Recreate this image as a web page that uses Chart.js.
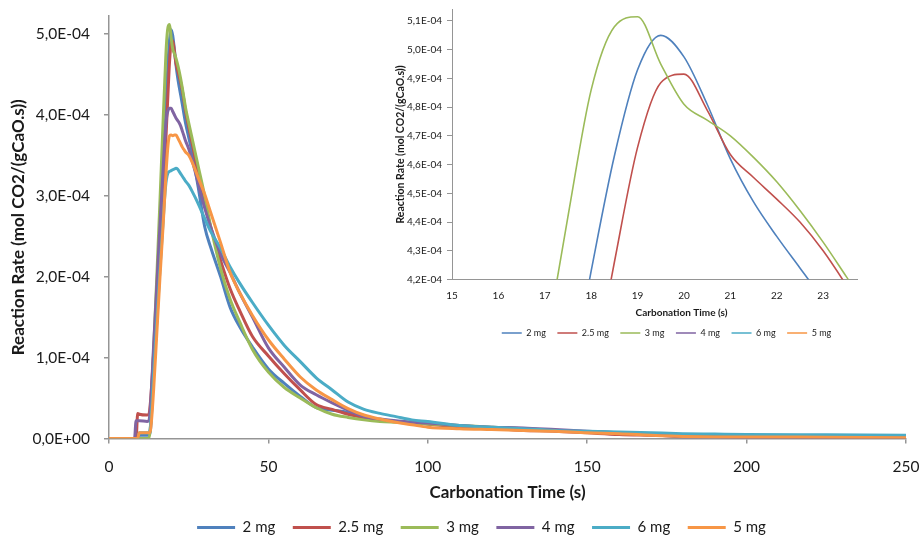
<!DOCTYPE html>
<html>
<head>
<meta charset="utf-8">
<script src="https://cdn.jsdelivr.net/npm/chart.js@4.4.1/dist/chart.umd.min.js"></script>
<style>
  body { margin: 0; background: #fff; }
  #wrap { position: relative; width: 919px; height: 540px; }
  #main { position: absolute; left: 0; top: 0; }
  #inset { position: absolute; left: 380px; top: 0; }
</style>
</head>
<body>
<div id="wrap">
  <canvas id="main" width="919" height="540"></canvas>
  <canvas id="inset" width="505" height="352"></canvas>
</div>
<script>
// carbonation time (s)
const time = [0, 8, 8.5, 9, 9.5, 12, 12.5, 13, 14, 15, 16, 17, 17.5, 18, 18.5, 19, 19.5, 20, 20.5, 21, 21.5, 22, 22.5, 23, 23.5, 24,
  25, 26, 28, 30, 32, 35, 38, 41, 45, 50, 55, 60, 65, 70, 75, 80, 85, 90, 95, 100,
  110, 120, 130, 140, 150, 160, 170, 180, 190, 200, 225, 250];

// reaction rate, in units of 1E-04 mol CO2/(gCaO.s)
const rate2mg = [0, 0, 0, 0, 0.04, 0.04, 0.04, 0.1, 0.85, 1.65, 2.5, 3.35, 3.8, 4.23, 4.63, 4.93, 5.05, 4.975, 4.81, 4.62, 4.47, 4.35, 4.24, 4.13, 4.01, 3.9,
  3.72, 3.55, 3.1, 2.62, 2.35, 2.0, 1.62, 1.38, 1.13, 0.86, 0.68, 0.52, 0.38, 0.35, 0.32, 0.25, 0.23, 0.21, 0.2, 0.18,
  0.15, 0.13, 0.11, 0.1, 0.085, 0.07, 0.06, 0.04, 0.035, 0.03, 0.025, 0.02];
const rate25mg = [0, 0, 0, 0.31, 0.3, 0.29, 0.3, 0.45, 1.05, 1.7, 2.33, 2.97, 3.4, 3.83, 4.26, 4.66, 4.885, 4.915, 4.79, 4.635, 4.555, 4.48, 4.4, 4.3, 4.18, 4.05,
  3.85, 3.66, 3.28, 2.9, 2.6, 2.2, 1.85, 1.58, 1.26, 1.02, 0.8, 0.6, 0.42, 0.36, 0.3, 0.26, 0.23, 0.21, 0.2, 0.18,
  0.14, 0.12, 0.1, 0.09, 0.07, 0.05, 0.04, 0.03, 0.025, 0.02, 0.02, 0.015];
const rate3mg = [0, 0, 0, 0, 0, 0, 0, 0.15, 1.1, 2.0, 2.95, 3.95, 4.42, 4.86, 5.08, 5.115, 4.95, 4.81, 4.755, 4.7, 4.625, 4.54, 4.44, 4.33, 4.21, 4.09,
  3.9, 3.72, 3.36, 3.0, 2.6, 2.1, 1.72, 1.44, 1.1, 0.82, 0.63, 0.5, 0.38, 0.3, 0.26, 0.23, 0.21, 0.2, 0.19, 0.18,
  0.16, 0.14, 0.12, 0.1, 0.08, 0.07, 0.06, 0.04, 0.035, 0.03, 0.025, 0.02];
const rate4mg = [0, 0, 0.22, 0.22, 0.22, 0.21, 0.22, 0.4, 1.15, 1.9, 2.65, 3.35, 3.7, 3.95, 4.05, 4.08, 4.08, 4.04, 4.0, 3.96, 3.93, 3.9, 3.86, 3.8, 3.74, 3.68,
  3.58, 3.45, 3.15, 2.85, 2.6, 2.28, 2.05, 1.8, 1.5, 1.12, 0.88, 0.66, 0.54, 0.44, 0.35, 0.27, 0.24, 0.22, 0.2, 0.19,
  0.16, 0.14, 0.13, 0.11, 0.09, 0.07, 0.05, 0.02, 0.02, 0.02, 0.015, 0.015];
const rate6mg = [0, 0, 0, 0, 0.07, 0.07, 0.07, 0.15, 0.8, 1.45, 2.1, 2.7, 3.0, 3.2, 3.28, 3.3, 3.31, 3.32, 3.33, 3.34, 3.33, 3.3, 3.27, 3.24, 3.21, 3.18,
  3.13, 3.06, 2.9, 2.72, 2.55, 2.35, 2.12, 1.92, 1.68, 1.4, 1.15, 0.95, 0.75, 0.6, 0.45, 0.36, 0.31, 0.27, 0.23, 0.21,
  0.16, 0.14, 0.12, 0.1, 0.09, 0.08, 0.07, 0.06, 0.055, 0.05, 0.045, 0.04];
const rate5mg = [0, 0, 0, 0, 0.07, 0.07, 0.07, 0.1, 0.6, 1.3, 2.0, 2.65, 3.0, 3.35, 3.62, 3.74, 3.75, 3.74, 3.75, 3.75, 3.72, 3.68, 3.64, 3.6, 3.57, 3.54,
  3.5, 3.42, 3.22, 3.02, 2.78, 2.42, 2.05, 1.8, 1.52, 1.22, 0.98, 0.76, 0.6, 0.48, 0.37, 0.29, 0.24, 0.2, 0.17, 0.14,
  0.12, 0.11, 0.1, 0.09, 0.07, 0.06, 0.04, 0.025, 0.02, 0.02, 0.015, 0.01];

const seriesNames = ['2 mg', '2.5 mg', '3 mg', '4 mg', '6 mg', '5 mg'];
const seriesRates = [rate2mg, rate25mg, rate3mg, rate4mg, rate6mg, rate5mg];
const seriesColors = ['#4F81BD', '#C0504D', '#9BBB59', '#8064A2', '#4BACC6', '#F79646'];

// tick labels (rate ticks in 1E-04)
const mainXTicks = [0, 50, 100, 150, 200, 250];
const mainYTicks = [0, 1, 2, 3, 4, 5];
const insetXTicks = [15, 16, 17, 18, 19, 20, 21, 22, 23];
const insetYTicks = [4.2, 4.3, 4.4, 4.5, 4.6, 4.7, 4.8, 4.9, 5.0, 5.1];

const UNIT = 1e-4;
const FONT = 'Lato, "Open Sans", sans-serif';
const AXIS = '#959595';
const TEXT = '#1a1a1a';

function fmtE(v) {
  if (Math.abs(v) < 1e-12) return '0,0E+00';
  const [m, e] = v.toExponential(1).split('e');
  const ex = parseInt(e, 10);
  return m.replace('.', ',') + 'E' + (ex < 0 ? '-' : '+') + String(Math.abs(ex)).padStart(2, '0');
}

function makeDatasets(lineWidth) {
  return seriesNames.map((name, i) => ({
    label: name,
    data: time.map((t, k) => ({ x: t, y: seriesRates[i][k] * UNIT })),
    borderColor: seriesColors[i],
    backgroundColor: seriesColors[i],
    borderWidth: lineWidth,
    pointRadius: 0,
    cubicInterpolationMode: 'monotone',
    order: seriesNames.length - i
  }));
}

// fixed axis size, no extra room for end labels
function fixSize(w, h) {
  return s => {
    if (w != null) s.width = w;
    if (h != null) s.height = h;
    s.paddingTop = s.paddingBottom = s.paddingLeft = s.paddingRight = 0;
  };
}

// moves legend / title blocks after layout
const nudge = {
  id: 'nudge',
  afterLayout(chart, args, opts) {
    const move = (box, d) => {
      if (!box || !d) return;
      box.left += d.dx || 0; box.right += d.dx || 0;
      box.top += d.dy || 0; box.bottom += d.dy || 0;
    };
    move(chart.legend, opts.legend);
    move(chart.titleBlock, opts.title);
  }
};

Chart.defaults.font.family = FONT;
Chart.defaults.color = TEXT;

new Chart(document.getElementById('main'), {
  type: 'line',
  data: { datasets: makeDatasets(3) },
  plugins: [nudge],
  options: {
    responsive: false,
    animation: false,
    layout: { padding: { left: 8, right: 13, top: 16, bottom: -7 } },
    scales: {
      x: {
        type: 'linear', min: 0, max: 250,
        afterBuildTicks: s => { s.ticks = mainXTicks.map(v => ({ value: v })); },
        afterFit: fixSize(null, 66),
        grid: { drawOnChartArea: false, drawTicks: true, tickLength: 5, color: AXIS, lineWidth: 1.5 },
        border: { color: AXIS, width: 1.5 },
        ticks: { font: { size: 15.5 }, padding: 14, color: TEXT },
        title: { display: true, text: 'Carbonation Time (s)', font: { size: 17, weight: 'bold' }, padding: { top: 0, bottom: 2 }, color: TEXT }
      },
      y: {
        min: 0, max: 5.22 * UNIT,
        afterBuildTicks: s => { s.ticks = mainYTicks.map(v => ({ value: v * UNIT })); },
        afterFit: fixSize(101, null),
        grid: { drawOnChartArea: false, drawTicks: true, tickLength: 5, color: AXIS, lineWidth: 1.5 },
        border: { color: AXIS, width: 1.5 },
        ticks: { font: { size: 15.5 }, padding: 14, color: TEXT, callback: v => fmtE(v) },
        title: { display: true, text: 'Reaction Rate (mol CO2/(gCaO.s))', font: { size: 17, weight: 'bold' }, padding: 0, color: TEXT }
      }
    },
    plugins: {
      legend: {
        position: 'bottom',
        labels: { boxWidth: 38, boxHeight: 0, padding: 17.5, font: { size: 15 }, color: TEXT,
          sort: (a, b) => a.datasetIndex - b.datasetIndex }
      },
      tooltip: { enabled: false },
      nudge: { legend: { dx: 24.5, dy: -2 } }
    }
  }
});

new Chart(document.getElementById('inset'), {
  type: 'line',
  data: { datasets: makeDatasets(1.6) },
  plugins: [nudge],
  options: {
    responsive: false,
    animation: false,
    layout: { padding: { left: 14, right: 28, top: 9.5, bottom: 0 } },
    scales: {
      x: {
        type: 'linear', min: 15, max: 23.73,
        afterBuildTicks: s => { s.ticks = insetXTicks.map(v => ({ value: v })); },
        afterFit: fixSize(null, 24),
        grid: { display: false, drawTicks: false },
        border: { color: AXIS, width: 1 },
        ticks: { font: { size: 10 }, padding: 10, color: TEXT }
      },
      y: {
        min: 4.2 * UNIT, max: 5.14 * UNIT,
        afterBuildTicks: s => { s.ticks = insetYTicks.map(v => ({ value: v * UNIT })); },
        afterFit: fixSize(58, null),
        grid: { drawOnChartArea: false, drawTicks: true, tickLength: 5, color: AXIS, lineWidth: 1 },
        border: { color: AXIS, width: 1 },
        ticks: { font: { size: 10 }, padding: 5, color: TEXT, callback: v => fmtE(v) },
        title: { display: true, text: 'Reaction Rate (mol CO2/(gCaO.s))', font: { size: 10.5, weight: 'bold' }, padding: 0, color: TEXT }
      }
    },
    plugins: {
      title: { display: true, text: 'Carbonation Time (s)', position: 'bottom', weight: 500,
        font: { size: 10, weight: 'bold' }, padding: { top: 3, bottom: 3 }, color: TEXT },
      legend: {
        position: 'bottom',
        labels: { boxWidth: 20, boxHeight: 0, padding: 11.5, font: { size: 9 }, color: TEXT,
          sort: (a, b) => a.datasetIndex - b.datasetIndex }
      },
      tooltip: { enabled: false },
      nudge: { legend: { dx: 41, dy: -4.5 }, title: { dx: 56 } }
    }
  }
});
</script>
</body>
</html>
